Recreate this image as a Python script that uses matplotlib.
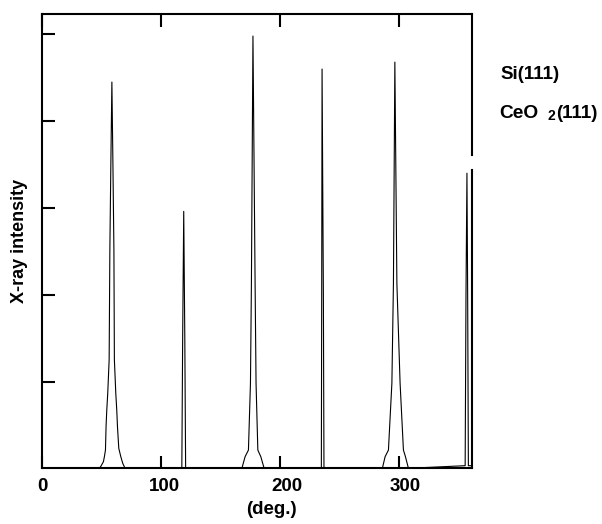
import matplotlib
matplotlib.use("Agg")
import matplotlib.pyplot as plt
from matplotlib.transforms import ScaledTranslation

plt.rcParams['font.family'] = ['Liberation Sans', 'DejaVu Sans']
plt.rcParams['font.weight'] = 'bold'

# phi scan (deg, arbitrary intensity units)
angle = [0, 48.0, 49.4, 51.4, 52.2, 53.1, 53.6, 54.2, 55.0, 56.2, 56.8, 57.6, 58.5,
         59.4, 60.2, 60.6, 61.8, 62.6, 63.2, 64.3, 66.0, 67.6, 69.6,
         117.3, 118.0, 118.9, 119.8, 120.5,
         167.8, 170.5, 173.3, 175.0, 175.8, 177.1, 178.9, 179.7, 181.2, 183.7, 186.5,
         234.6, 234.9, 235.2, 236.3, 236.8,
         285.9, 288.2, 291.0, 293.9, 295.2, 296.4, 298.1, 300.8, 303.6, 305.3, 307.8,
         355.5, 356.2, 357.0, 357.6, 358.2, 361]
intensity = [0, 0, 0.027, 0.077, 0.134, 0.21, 0.48, 0.67, 0.86, 1.25, 2.52, 3.47, 4.45,
             3.47, 2.52, 1.25, 0.86, 0.67, 0.48, 0.23, 0.134, 0.058, 0,
             0, 1.5, 2.96, 1.5, 0,
             0, 0.134, 0.21, 0.98, 2.13, 4.98, 2.13, 0.98, 0.21, 0.134, 0,
             0, 2.0, 4.6, 2.0, 0,
             0, 0.134, 0.21, 0.98, 2.13, 4.68, 2.13, 0.98, 0.21, 0.134, 0,
             0.03, 2.0, 3.40, 2.0, 0.03, 0.03]

x_ticks = [0, 100, 200, 300]
x_ticklabels = ['0', '100', '200', '300']
y_ticks = [1, 2, 3, 4, 5]

W, H = 602, 524
fig = plt.figure(figsize=(W / 100, H / 100), dpi=100)
ax = fig.add_axes([42.3 / W, 1 - 468.3 / H, (471.7 - 42.3) / W, (468.3 - 14) / H])

ax.plot(angle, intensity, color='black', lw=0.8)
ax.set_xlim(0, 361)
ax.set_ylim(0, 5.234)

for s in ['left', 'top', 'bottom']:
    ax.spines[s].set_linewidth(1.5)
# right frame line is broken in the original
ax.spines['right'].set_visible(False)
tr = ax.get_yaxis_transform()
ax.plot([1, 1], [3.61, 5.234], color='black', lw=1.5, transform=tr, clip_on=False)
ax.plot([1, 1], [0, 3.44], color='black', lw=1.5, transform=tr, clip_on=False)

ax.set_xticks(x_ticks)
ax.set_xticklabels(x_ticklabels)
ax.set_yticks(y_ticks)
ax.set_yticklabels([])
ax.tick_params(axis='x', direction='in', top=True, length=9, width=1.5,
               labelsize=13.5, pad=7)
ax.tick_params(axis='y', direction='in', length=9, width=1.5)

for lab, dx in zip(ax.get_xticklabels(), [0.5, 2.7, 6.7, 6.0]):
    lab.set_fontweight('bold')
    lab.set_transform(lab.get_transform() + ScaledTranslation(dx / 100, 0, fig.dpi_scale_trans))

fig.text(271 / W, 1 - 509 / H, '(deg.)', ha='center', va='center',
         fontsize=13.5, fontweight='bold')
fig.text(20 / W, 1 - 241 / H, 'X-ray intensity', ha='center', va='center',
         rotation=90, fontsize=13, fontweight='bold')

fig.text(500 / W, 1 - 79 / H, 'Si(111)', ha='left', va='baseline',
         fontsize=13.5, fontweight='bold')
fig.text(499 / W, 1 - 118.5 / H, 'CeO', ha='left', va='baseline',
         fontsize=13.8, fontweight='bold')
fig.text(547.5 / W, 1 - 119.5 / H, '2', ha='left', va='baseline',
         fontsize=10, fontweight='bold')
fig.text(556.5 / W, 1 - 118.5 / H, '(111)', ha='left', va='baseline',
         fontsize=13.5, fontweight='bold')

fig.savefig('out.png', dpi=100)
